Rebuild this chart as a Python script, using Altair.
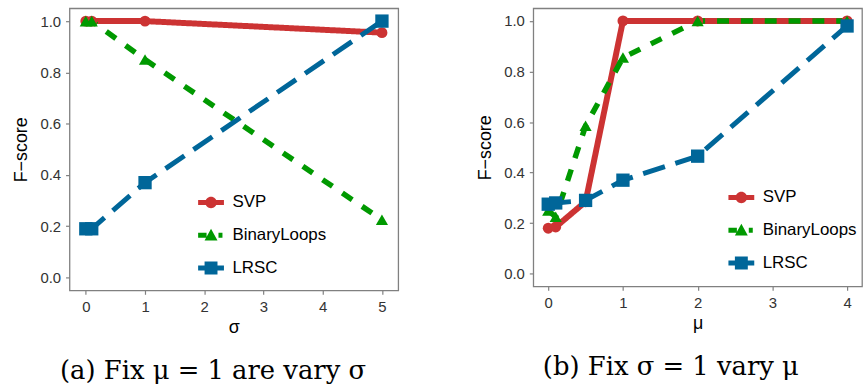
import altair as alt
import pandas as pd

# ---------------- data ----------------
series_names = ["SVP", "BinaryLoops", "LRSC"]

sigma_vals = [0, 0.1, 1, 5]
svp_sigma = [1.0, 1.0, 1.0, 0.955]
bl_sigma = [1.0, 1.0, 0.85, 0.225]
lrsc_sigma = [0.19, 0.19, 0.37, 1.0]

mu_vals = [0, 0.1, 0.5, 1, 2, 4]
svp_mu = [0.18, 0.185, 0.285, 1.0, 1.0, 1.0]
bl_mu = [0.25, 0.225, 0.585, 0.855, 1.0, 1.0]
lrsc_mu = [0.275, 0.28, 0.29, 0.37, 0.465, 0.98]

y_ticks = [0.0, 0.2, 0.4, 0.6, 0.8, 1.0]
sigma_ticks = [0, 1, 2, 3, 4, 5]
mu_ticks = [0, 1, 2, 3, 4]

caption_a = "(a) Fix μ = 1 are vary σ"
caption_b = "(b) Fix σ = 1 vary μ"

# ---------------- styles ----------------
colors = ["#cc3333", "#009900", "#006699"]
shapes = ["circle", "triangle-up", "square"]
marker_sizes = [121, 180, 170]
dashes = [[1, 0], [12, 12], [23, 11]]
widths = [6, 5, 5.5]

legend_paths = [
    "M-2.6,-0.5H2.6V0.5H-2.6Z M1.15,0A1.15,1.15 0 1,1 -1.15,0A1.15,1.15 0 1,1 1.15,0Z",
    "M-2.6,-0.5H-0.9V0.5H-2.6Z M1.5,-0.5H2.3V0.5H1.5Z M0,-1.3L1.3,1.05H-1.3Z",
    "M-2.6,-0.5H2.6V0.5H-2.6Z M-1.3,-1.3H1.3V1.3H-1.3Z",
]


def make_df(xs, a, b, c):
    rows = []
    for i, (name, ys) in enumerate(zip(series_names, [a, b, c])):
        for x, y in zip(xs, ys):
            rows.append({"x": x, "y": y, "series": name, "ord": i})
    return pd.DataFrame(rows)


df_a = make_df(sigma_vals, svp_sigma, bl_sigma, lrsc_sigma)
df_b = make_df(mu_vals, svp_mu, bl_mu, lrsc_mu)


def color_scale():
    return alt.Scale(domain=series_names, range=colors)


def panel(df, xdom, xticks, xtitle, caption, w, h, lx, ly, cdx):
    xenc = alt.X(
        "x:Q",
        scale=alt.Scale(domain=xdom, nice=False, zero=False),
        axis=alt.Axis(values=xticks, format="d", title=xtitle),
    )
    yenc = alt.Y(
        "y:Q",
        scale=alt.Scale(domain=[-0.05, 1.05], nice=False, zero=False),
        axis=alt.Axis(values=y_ticks, format=".1f", title="F−score"),
    )
    lines = alt.Chart(df).mark_line(strokeCap="butt", strokeJoin="round").encode(
        x=xenc,
        y=yenc,
        color=alt.Color("series:N", scale=color_scale(), legend=None),
        strokeDash=alt.StrokeDash("series:N", scale=alt.Scale(domain=series_names, range=dashes), legend=None),
        strokeWidth=alt.StrokeWidth("series:N", scale=alt.Scale(domain=series_names, range=widths), legend=None),
        order=alt.Order("x:Q"),
    )
    points = alt.Chart(df).mark_point(filled=True, opacity=1).encode(
        x=xenc,
        y=yenc,
        color=alt.Color("series:N", scale=color_scale(), legend=None),
        shape=alt.Shape("series:N", scale=alt.Scale(domain=series_names, range=shapes), legend=None),
        size=alt.Size("series:N", scale=alt.Scale(domain=series_names, range=marker_sizes), legend=None),
        order=alt.Order("ord:Q"),
    )
    legend = alt.Legend(
        title=None,
        orient="none",
        legendX=lx,
        legendY=ly,
        padding=0,
        symbolSize=100,
        symbolStrokeWidth=0,
        symbolOpacity=1,
        labelFont="Liberation Sans",
        labelFontSize=17,
        labelColor="#000000",
        labelOffset=13,
        rowPadding=15,
    )
    legend_layer = (
        alt.Chart(df)
        .mark_point(filled=True, opacity=1)
        .encode(
            x=xenc,
            y=yenc,
            color=alt.Color("series:N", scale=color_scale(), legend=legend),
            shape=alt.Shape("series:N", scale=alt.Scale(domain=series_names, range=legend_paths), legend=legend),
        )
        .transform_filter("false")
    )
    return (
        alt.layer(lines, points, legend_layer)
        .resolve_scale(shape="independent", color="independent")
        .properties(
            width=w,
            height=h,
            title=alt.TitleParams(
                caption,
                orient="bottom",
                anchor="middle",
                dx=cdx,
                offset=22,
                font="DejaVu Serif",
                fontSize=26,
                fontWeight="normal",
                color="#000000",
            ),
        )
    )


left = panel(df_a, [-0.275, 5.275], sigma_ticks, "σ", caption_a, 331, 284, 134, 187, -21)
right = panel(df_b, [-0.2, 4.2], mu_ticks, "μ", caption_b, 331, 280, 201, 182, -27)

chart = (
    alt.hconcat(left, right, spacing=136, bounds="flush")
    .properties(padding={"left": 12, "top": 6, "right": 0, "bottom": 0}, background="white")
    .configure_view(stroke="#808080", strokeWidth=1.3)
    .configure_axis(
        grid=False,
        domain=False,
        tickColor="#808080",
        tickSize=4,
        tickWidth=1.2,
        labelPadding=5,
        labelFont="Liberation Sans",
        labelFontSize=15,
        labelColor="#333333",
        titleFont="Liberation Sans",
        titleFontSize=18,
        titleFontWeight="normal",
        titleColor="#000000",
    )
    .configure_axisY(titlePadding=9)
    .configure_axisX(titlePadding=4)
)

chart.save("out.html", embed_options={"renderer": "svg", "actions": False})
